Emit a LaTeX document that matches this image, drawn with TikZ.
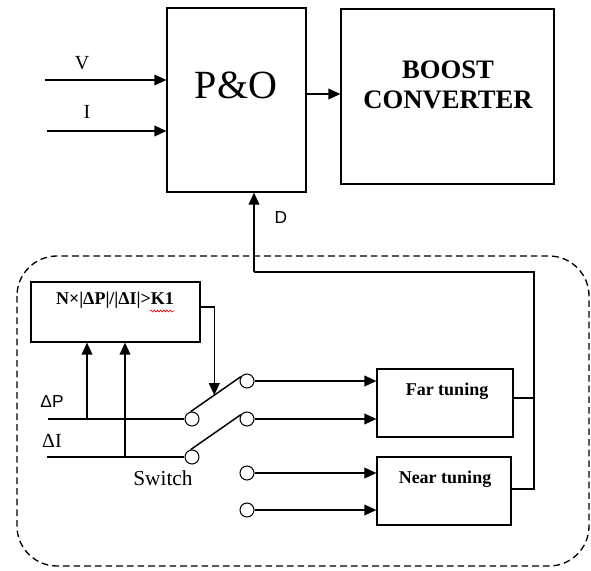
\documentclass[tikz,border=0pt]{standalone}
\usepackage{fontspec}
\setmainfont{Liberation Serif}
\newfontfamily\sansfnt{Liberation Sans}
\usetikzlibrary{arrows.meta, positioning, decorations.pathmorphing}
\tikzstyle{block}   = [draw, line width=0.9pt, rectangle, inner sep=0pt]
\tikzstyle{arrow}   = [line width=1.1pt, -{Triangle[length=9pt,width=8pt]}]
\tikzstyle{wire}    = [line width=1.1pt]
\tikzstyle{contact} = [draw, circle, line width=0.8pt, minimum size=10.5pt, inner sep=0pt, fill=white]
\tikzstyle{frame}   = [line width=1pt, dash pattern=on 5pt off 3pt, rounded corners=30pt]
\tikzstyle{lbl}     = [inner sep=0pt, font=\fontsize{15}{15}\selectfont]
\tikzstyle{boldlbl} = [inner sep=0pt, font=\bfseries\fontsize{13.5}{13.5}\selectfont]
\tikzstyle{sanslbl} = [inner sep=0pt, font=\sansfnt\fontsize{13}{13}\selectfont]

\begin{document}
\begin{tikzpicture}[x=0.75pt,y=-0.75pt]
\useasboundingbox (0,0) rectangle (591,570);

% control loop
\draw[frame] (17,256) rectangle (589,566);

\node[block, minimum width=104.25pt, minimum height=138pt] (PO) at (236.5,100) {};
\node[inner sep=0pt, font=\fontsize{30}{30}\selectfont] (POtxt) at (236,85) {P\&O};
\node[block, minimum width=159.75pt, minimum height=131.25pt] (BC) at (447.5,96.5) {};
\node[inner sep=0pt, align=center, font=\bfseries\fontsize{20}{22.5}\selectfont] (BCtxt) at (448,85) {BOOST\\CONVERTER};

\node[block, minimum width=126.75pt, minimum height=45pt] (COND) at (115.5,312) {};
\node[inner sep=0pt, font=\bfseries\fontsize{13.5}{13.5}\selectfont] (CONDtxt) at (115,300) {N×|ΔP|/|ΔI|>K1};
\draw[red, line width=0.5pt, decorate, decoration={snake, amplitude=0.7pt, segment length=2.4pt}] (150,311) -- (174,311);

\node[block, minimum width=102pt, minimum height=51pt] (FAR) at (445,403) {};
\node[boldlbl] (FARtxt) at (447,391) {Far tuning};
\node[block, minimum width=100.5pt, minimum height=51pt] (NEAR) at (444,491) {};
\node[boldlbl] (NEARtxt) at (445,479) {Near tuning};

\node[contact] (S1) at (192,419) {};
\node[contact] (S2) at (192,457) {};
\node[contact] (T1) at (247,381) {};
\node[contact] (T2) at (247,419) {};
\node[contact] (T3) at (247,473) {};
\node[contact] (T4) at (247,510) {};

% inputs of P&O
\coordinate (Vin) at (45,80);
\coordinate (Iin) at (47,131);
\draw[arrow] (Vin) -- (Vin -| PO.west);
\draw[arrow] (Iin) -- (Iin -| PO.west);
\node[lbl] (Vlbl) at (82,63) {V};
\node[lbl] (Ilbl) at (87,112) {I};
\coordinate (POout) at (306,94);
\draw[arrow] (POout) -- (POout -| BC.west);

% switch inputs
\coordinate (dP) at (48,419);
\coordinate (dI) at (47,457);
\draw[wire] (dP) -- (S1.west);
\draw[wire] (dI) -- (S2.west);
\coordinate (tapP) at (87,419);
\coordinate (tapI) at (125,457);
\draw[arrow] (tapP) -- (tapP |- COND.south);
\draw[arrow] (tapI) -- (tapI |- COND.south);
\node[sanslbl] (dPlbl) at (52,402) {ΔP};
\node[inner sep=0pt, font=\fontsize{15}{15}\selectfont] (dIlbl) at (52,441) {ΔI};
\node[inner sep=0pt, font=\fontsize{16}{16}\selectfont] (SWlbl) at (163,478) {Switch};

% levers
\draw[wire] (S1.100) -- coordinate[pos=0.47] (lever) (T1.145);
\draw[wire] (S2.100) -- (T2.145);
\draw[arrow] ([yshift=3.75pt]COND.east) -| (lever);

% to tuning blocks
\draw[arrow] (T1.east) -- (T1.east -| FAR.west);
\draw[arrow] (T2.east) -- (T2.east -| FAR.west);
\draw[arrow] (T3.east) -- (T3.east -| NEAR.west);
\draw[arrow] (T4.east) -- (T4.east -| NEAR.west);

% feedback D
\coordinate (bus) at (534,272);
\coordinate (Dtap) at (254,272);
\draw[wire] ([yshift=3.75pt]FAR.east) -- ([yshift=3.75pt]FAR.east -| bus);
\draw[wire] ([yshift=1.5pt]NEAR.east) -| (bus) -- (Dtap);
\draw[arrow] (Dtap) -- (Dtap |- PO.south);
\node[sanslbl] (Dlbl) at (281,218) {D};

\end{tikzpicture}
\end{document}
